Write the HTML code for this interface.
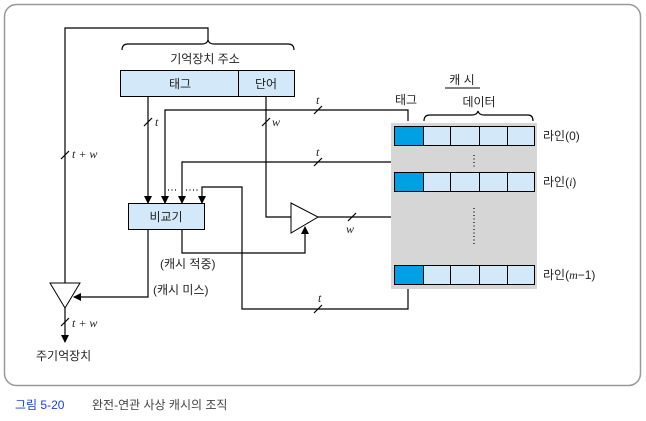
<!DOCTYPE html>
<html><head><meta charset="utf-8"><style>
body{margin:0;background:#fff;}
svg text{font-family:"Liberation Sans","Noto Sans CJK KR",sans-serif;font-size:12px;fill:#222;}
.i{font-family:"Liberation Serif",serif;font-style:italic;font-size:12px;}
</style></head><body>
<svg width="646" height="416" viewBox="0 0 646 416" xmlns="http://www.w3.org/2000/svg">
<defs><marker id="a" markerWidth="8" markerHeight="8" refX="7" refY="4" orient="auto" markerUnits="userSpaceOnUse"><path d="M0,0 L8,4 L0,8 z" fill="#000"/></marker></defs>
<rect x="4.5" y="4.5" width="636" height="381" rx="12" fill="none" stroke="#999" stroke-width="1.5"/>
<g fill="none" stroke="#000" stroke-width="1.2">
<!-- top feedback -->
<polyline points="65,283 65,28 208,28 208,41"/>
<path d="M122,50 Q122,44 128,44 L202,44 Q207,44 208,40 Q209,44 214,44 L288,44 Q294,44 294,50"/>
<!-- tag line -->
<line x1="148" y1="96" x2="148" y2="203" marker-end="url(#a)"/>
<polyline points="408,121 408,110 165,110 165,203" marker-end="url(#a)"/>
<polyline points="408,172 408,162 182,162 182,203" marker-end="url(#a)"/>
<polyline points="408,285 408,309 242,309 242,187 202,187 202,203" marker-end="url(#a)"/>
<!-- word line -->
<polyline points="266,96 266,217 291,217"/>
<!-- comparator outputs -->
<polyline points="148,229 148,297 74,297" marker-end="url(#a)"/>
<polyline points="182,229 182,253 305,253 305,227" marker-end="url(#a)"/>
<polyline points="318,217 463,217 463,192" marker-end="url(#a)"/>
<!-- bottom -->
<line x1="65" y1="308" x2="65" y2="342" marker-end="url(#a)"/>
<!-- slashes -->
<line x1="144" y1="126" x2="152" y2="118"/>
<line x1="262" y1="126" x2="270" y2="118"/>
<line x1="314" y1="114" x2="322" y2="106"/>
<line x1="314" y1="166" x2="322" y2="158"/>
<line x1="314" y1="313" x2="322" y2="305"/>
<line x1="348" y1="221" x2="356" y2="213"/>
<line x1="61" y1="159" x2="69" y2="151"/>
<line x1="61" y1="326" x2="69" y2="318"/>
<path d="M424,121 Q424,115 430,115 L472,115 Q477,115 478,111 Q479,115 484,115 L528,115 Q533,115 533,121"/>
</g>
<!-- triangles -->
<polygon points="291,203 291,233 318,217" fill="#fff" stroke="#000" stroke-width="1"/>
<polygon points="50,283 80,283 65,308" fill="#fff" stroke="#000" stroke-width="1"/>
<!-- address box -->
<rect x="120.5" y="70.5" width="174" height="26" fill="#d3e8f8" stroke="#000"/>
<line x1="238.5" y1="70" x2="238.5" y2="97" stroke="#000"/>
<rect x="128.5" y="203.5" width="76" height="26" fill="#d3e8f8" stroke="#000"/>
<!-- cache -->
<rect x="391" y="123" width="146" height="166" fill="#d6d6d6"/>
<g stroke="#000" stroke-width="1">
<g id="r"><rect x="394.5" y="126.5" width="29" height="19" fill="#00a0e4"/><rect x="423.5" y="126.5" width="27" height="19" fill="#d3e8f8"/><rect x="450.5" y="126.5" width="29" height="19" fill="#d3e8f8"/><rect x="479.5" y="126.5" width="28" height="19" fill="#d3e8f8"/><rect x="507.5" y="126.5" width="27" height="19" fill="#d3e8f8"/></g>
<use href="#r" y="46"/><use href="#r" y="139"/>
</g>
<g stroke="#000" stroke-width="1.2" stroke-dasharray="1,2.5">
<line x1="474" y1="155" x2="474" y2="168"/><line x1="474" y1="208" x2="474" y2="246"/>
<line x1="168" y1="190" x2="178" y2="190"/><line x1="186" y1="190" x2="198" y2="190"/>
</g>
<line x1="445" y1="88" x2="480" y2="88" stroke="#000"/>
<!-- text -->
<text x="205" y="63" text-anchor="middle">기억장치 주소</text>
<text x="180" y="88" text-anchor="middle">태그</text>
<text x="266" y="88" text-anchor="middle">단어</text>
<text x="166" y="221" text-anchor="middle">비교기</text>
<text x="462" y="84" text-anchor="middle">캐 시</text>
<text x="406" y="104" text-anchor="middle">태그</text>
<text x="479" y="106" text-anchor="middle">데이터</text>
<text x="543" y="140">라인(0)</text>
<text x="543" y="186">라인(<tspan class="i">i</tspan>)</text>
<text x="543" y="279">라인(<tspan class="i">m</tspan>−1)</text>
<text x="160" y="268">(캐시 적중)</text>
<text x="153" y="294">(캐시 미스)</text>
<text x="36" y="360">주기억장치</text>
<text class="i" x="155" y="126">t</text>
<text class="i" x="272" y="126">w</text>
<text class="i" x="316" y="104">t</text>
<text class="i" x="316" y="156">t</text>
<text class="i" x="318" y="302">t</text>
<text class="i" x="346" y="233">w</text>
<text class="i" x="72" y="158">t + w</text>
<text class="i" x="72" y="327">t + w</text>
<text x="15" y="409" style="fill:#1a3fd8">그림 5-20</text>
<text x="92" y="409" style="fill:#444">완전-연관 사상 캐시의 조직</text>
</svg>
</body></html>
